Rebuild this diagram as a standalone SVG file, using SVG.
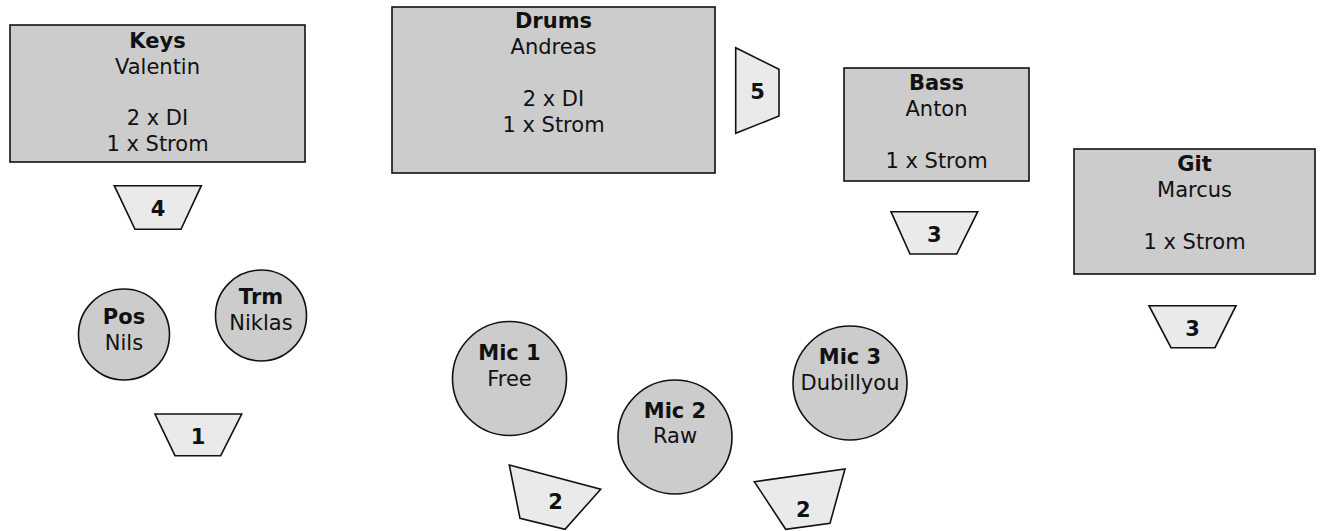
<svg xmlns="http://www.w3.org/2000/svg" width="1323" height="531" viewBox="0 0 1323 531">
<style>
.box{fill:#cccccc;stroke:#111;stroke-width:1.6}
.mon{fill:#eaeaea;stroke:#111;stroke-width:1.6;stroke-linejoin:miter}
text{font-family:"DejaVu Sans","Verdana",sans-serif;font-size:21px;fill:#111;text-anchor:middle}
.b{font-weight:bold}
</style>
<rect width="1323" height="531" fill="#ffffff"/>
<g id="keys">
<rect class="box" x="10" y="25" width="295" height="137"/>
<text class="b" x="157.5" y="48">Keys</text>
<text x="157.5" y="73.5">Valentin</text>
<text x="157.5" y="125">2 x DI</text>
<text x="157.5" y="150.5">1 x Strom</text>
</g>
<g id="drums">
<rect class="box" x="392" y="7" width="323" height="166"/>
<text class="b" x="553.5" y="27.5">Drums</text>
<text x="553.5" y="53.5">Andreas</text>
<text x="553.5" y="106">2 x DI</text>
<text x="553.5" y="132">1 x Strom</text>
</g>
<g id="bass">
<rect class="box" x="844" y="68" width="185" height="113"/>
<text class="b" x="936.5" y="90">Bass</text>
<text x="936.5" y="116">Anton</text>
<text x="936.5" y="168">1 x Strom</text>
</g>
<g id="git">
<rect class="box" x="1074" y="149" width="241" height="125"/>
<text class="b" x="1194.5" y="171">Git</text>
<text x="1194.5" y="197">Marcus</text>
<text x="1194.5" y="249">1 x Strom</text>
</g>
<g id="pos">
<circle class="box" cx="124" cy="334.5" r="45.5"/>
<text class="b" x="124" y="324">Pos</text>
<text x="124" y="350">Nils</text>
</g>
<g id="trm">
<circle class="box" cx="261" cy="315.5" r="45.5"/>
<text class="b" x="261" y="304">Trm</text>
<text x="261" y="330">Niklas</text>
</g>
<g id="mic1">
<circle class="box" cx="509.5" cy="378.5" r="57"/>
<text class="b" x="509.5" y="360">Mic 1</text>
<text x="509.5" y="385.5">Free</text>
</g>
<g id="mic2">
<circle class="box" cx="675" cy="437" r="57"/>
<text class="b" x="675" y="418">Mic 2</text>
<text x="675" y="443">Raw</text>
</g>
<g id="mic3">
<circle class="box" cx="850" cy="383" r="57"/>
<text class="b" x="850" y="364">Mic 3</text>
<text x="850" y="390">Dubillyou</text>
</g>
<g id="mon4">
<polygon class="mon" points="114.3,185.7 201.3,185.7 181,229.3 135,229.3"/>
<text class="b" x="158" y="216">4</text>
</g>
<g id="mon5">
<polygon class="mon" points="735.7,47.7 779,69.3 779,116 735.7,133.3"/>
<text class="b" x="757.5" y="98.5">5</text>
</g>
<g id="mon3-bass">
<polygon class="mon" points="891,211.7 977.7,211.7 956.7,254 910,254"/>
<text class="b" x="934.3" y="241.5">3</text>
</g>
<g id="mon3-git">
<polygon class="mon" points="1149,305.7 1236,305.7 1215,347.7 1171,347.7"/>
<text class="b" x="1192.5" y="335.5">3</text>
</g>
<g id="mon1">
<polygon class="mon" points="155,414 241.7,414 220.7,455.7 175,455.7"/>
<text class="b" x="198" y="444">1</text>
</g>
<g id="mon2-left">
<polygon class="mon" points="509.3,465 600.7,489.3 565,529.3 520,518.3"/>
<text class="b" x="555.5" y="509">2</text>
</g>
<g id="mon2-right">
<polygon class="mon" points="754.3,481.7 845,469 830,523.3 785.7,529.3"/>
<text class="b" x="803.3" y="516.5">2</text>
</g>
<g id="connectors"/>
</svg>
